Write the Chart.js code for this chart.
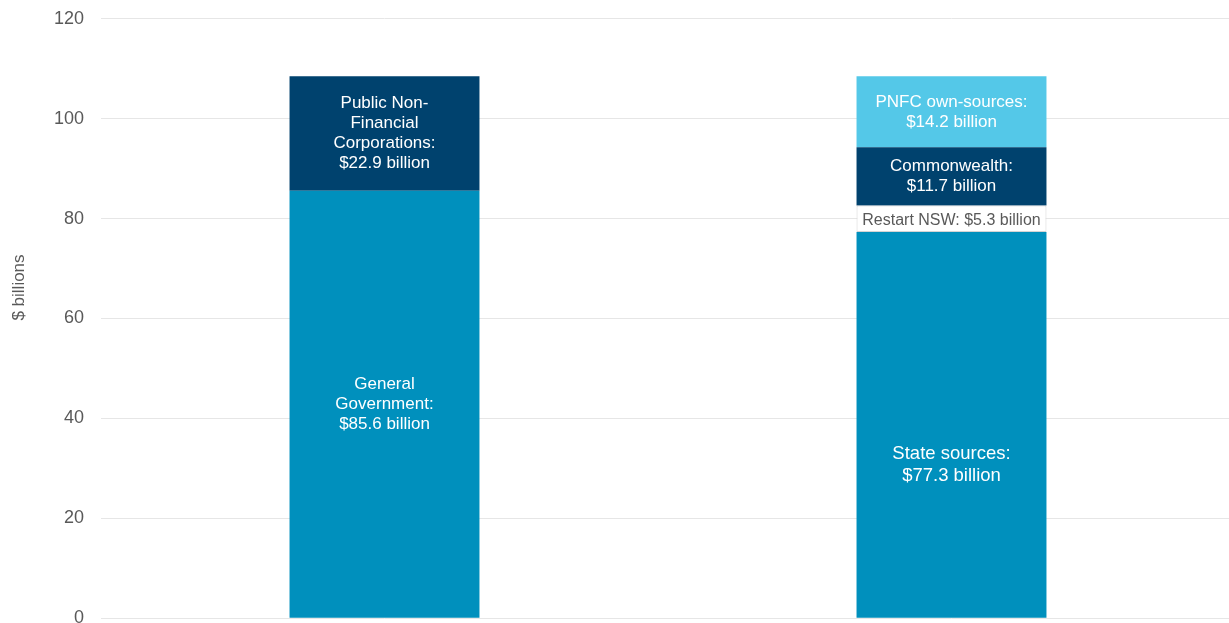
<!DOCTYPE html>
<html>
<head>
<meta charset="utf-8">
<script src="https://cdn.jsdelivr.net/npm/chart.js@4.4.1/dist/chart.umd.min.js"></script>
<style>
  html, body { margin: 0; padding: 0; background: #ffffff; overflow: hidden; }
  #wrap { position: relative; width: 1235px; height: 655px; margin-top: -9px; }
</style>
</head>
<body>
<div id="wrap"><canvas id="c"></canvas></div>
<script>
// ---- data ----
const categories = ['Uses', 'Sources'];
const generalStateValues = [85.6, 77.3];
const restartValues = [0, 5.3];
const navyValues = [22.9, 11.7];
const pnfcOwnValues = [0, 14.2];

const generalStateLabels = [['General', 'Government:', '$85.6 billion'], ['State sources:', '$77.3 billion']];
const restartLabels = [null, ['Restart NSW: $5.3 billion']];
const navyLabels = [['Public Non-', 'Financial', 'Corporations:', '$22.9 billion'], ['Commonwealth:', '$11.7 billion']];
const pnfcOwnLabels = [null, ['PNFC own-sources:', '$14.2 billion']];

const yTicks = [0, 20, 40, 60, 80, 100, 120];
const yAxisTitle = '$ billions';

// ---- label plugin ----
const barLabelPlugin = {
  id: 'barLabels',
  afterDatasetsDraw(chart) {
    const ctx = chart.ctx;
    chart.data.datasets.forEach((ds, di) => {
      const meta = chart.getDatasetMeta(di);
      const st = ds.labelStyle;
      meta.data.forEach((el, i) => {
        const lines = ds.barLabels[i];
        if (!lines) return;
        const s = (st.perIndex && st.perIndex[i]) || st;
        const size = s.size || st.size;
        const lh = s.lineHeight || st.lineHeight;
        const dy = s.dy || 0;
        const cx = el.x;
        const cy = (el.y + el.base) / 2 + dy;
        ctx.save();
        ctx.font = size + 'px "Liberation Sans", Arial, sans-serif';
        ctx.fillStyle = st.color;
        ctx.textAlign = 'center';
        ctx.textBaseline = 'middle';
        const n = lines.length;
        lines.forEach((t, k) => {
          ctx.fillText(t, cx, cy + (k - (n - 1) / 2) * lh);
        });
        ctx.restore();
      });
    });
  }
};

// y-axis title drawn slightly above centre, as in the reference
const yTitlePlugin = {
  id: 'yTitle',
  afterDraw(chart) {
    const ctx = chart.ctx;
    const a = chart.chartArea;
    ctx.save();
    ctx.translate(19, (a.top + a.bottom) / 2 - 31);
    ctx.rotate(-Math.PI / 2);
    ctx.font = '17px "Liberation Sans", Arial, sans-serif';
    ctx.fillStyle = '#595959';
    ctx.textAlign = 'center';
    ctx.textBaseline = 'middle';
    ctx.fillText(yAxisTitle, 0, 0);
    ctx.restore();
  }
};

const datasets = [
  {
    label: 'General Government / State sources',
    data: generalStateValues,
    backgroundColor: '#0090BD',
    barLabels: generalStateLabels,
    labelStyle: { color: '#ffffff', size: 17, lineHeight: 20, perIndex: { 1: { size: 18.5, lineHeight: 22, dy: 40 } } }
  },
  {
    label: 'Restart NSW',
    data: restartValues,
    backgroundColor: '#ffffff',
    borderColor: '#d4d4d4',
    borderWidth: 1,
    borderSkipped: false,
    barLabels: restartLabels,
    labelStyle: { color: '#595959', size: 16, lineHeight: 18, perIndex: { 1: { dy: 1.5 } } }
  },
  {
    label: 'Public Non-Financial Corporations / Commonwealth',
    data: navyValues,
    backgroundColor: '#00426E',
    barLabels: navyLabels,
    labelStyle: { color: '#ffffff', size: 17, lineHeight: 20 }
  },
  {
    label: 'PNFC own-sources',
    data: pnfcOwnValues,
    backgroundColor: '#54C8E8',
    barLabels: pnfcOwnLabels,
    labelStyle: { color: '#ffffff', size: 17, lineHeight: 20, perIndex: { 1: { dy: 1 } } }
  }
];

new Chart(document.getElementById('c'), {
  type: 'bar',
  data: { labels: categories, datasets },
  plugins: [barLabelPlugin, yTitlePlugin],
  options: {
    responsive: true,
    maintainAspectRatio: false,
    animation: false,
    layout: { padding: { top: 9, right: 0, bottom: 0, left: 0 } },
    plugins: { legend: { display: false }, tooltip: { enabled: false } },
    datasets: { bar: { categoryPercentage: 1.0, barPercentage: 0.335 } },
    scales: {
      x: {
        stacked: true,
        display: false
      },
      y: {
        stacked: true,
        min: 0,
        max: 120,
        afterBuildTicks(scale) { scale.ticks = yTicks.map(v => ({ value: v })); },
        afterFit(scale) { scale.width = 101; },
        border: { display: false },
        grid: { color: '#e6e6e6', lineWidth: 1, drawTicks: false },
        ticks: {
          color: '#595959',
          padding: 17,
          font: { family: '"Liberation Sans", Arial, sans-serif', size: 18 }
        },
        title: { display: false }
      }
    }
  }
});
</script>
</body>
</html>
